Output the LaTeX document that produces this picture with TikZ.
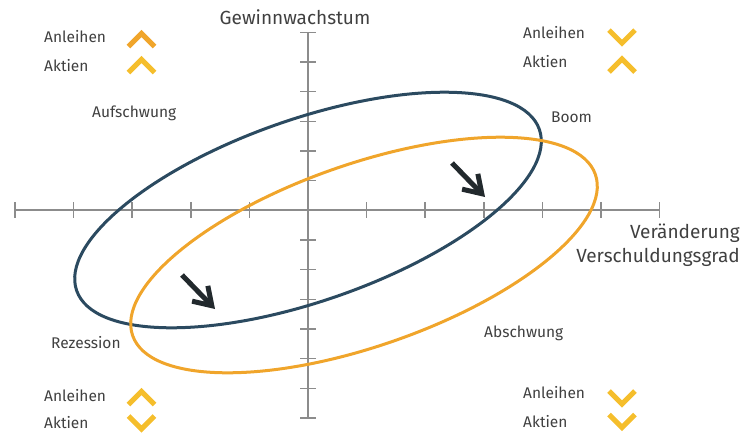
\documentclass[tikz,border=0pt]{standalone}
\usepackage{fontspec}
\setmainfont{Fira Sans}
\usepackage{tikz}
\usetikzlibrary{arrows.meta,positioning}
\definecolor{axisgray}{HTML}{8C8C8C}
\definecolor{cycblue}{HTML}{2B4A60}
\definecolor{cycorange}{HTML}{F0A52B}
\definecolor{chevyellow}{HTML}{F5BE2C}
\definecolor{txtgray}{HTML}{404040}
\definecolor{arrdark}{HTML}{22292D}
\tikzset{
  axis/.style   ={draw=axisgray,line width=2pt},
  tick/.style   ={draw=axisgray,line width=1.6pt},
  cycle/.style  ={line width=3pt},
  lbl/.style    ={text=txtgray,font=\fontsize{15.5}{18}\selectfont,inner sep=0pt},
  axlbl/.style  ={text=txtgray,font=\fontsize{19}{24}\selectfont,inner sep=0pt},
  chev/.style   ={line width=5pt,line cap=butt,line join=miter},
  move/.style   ={-{Straight Barb[length=17pt,width=22pt]},line width=5pt,draw=arrdark},
  pics/chevup/.style={code={\draw[chev,#1] (-13,6.5) -- (0,-6.5) -- (13,6.5);}},
  pics/chevdown/.style={code={\draw[chev,#1] (-13,-6.5) -- (0,6.5) -- (13,-6.5);}}
}
\begin{document}
\begin{tikzpicture}[x=1pt,y=-1pt]
  \useasboundingbox (0,0) rectangle (755,432);
  % --- axes with ticks ---
  \draw[axis] (15,210) -- (659.6,210);
  \draw[axis] (308,32.3) -- (308,418);
  \foreach \k in {0,...,11}
    \draw[tick] ({15+58.6*\k},202) -- ({15+58.6*\k},218);
  \foreach \k in {0,...,13}
    \draw[tick] (300,{32.3+29.67*\k}) -- (316,{32.3+29.67*\k});
  \node[axlbl] (ylab) at (295,17) {Gewinnwachstum};
  \node[axlbl,anchor=east,align=right] (xlab) at (740,245)
    {Veränderung\\Verschuldungsgrad};
  % --- the two cycles ---
  \draw[cycle,draw=cycblue,shift={(308,210)},rotate=19.2]
    (0,0) ellipse [x radius=245pt,y radius=91pt];
  \draw[cycle,draw=cycorange,shift={(364,255)},rotate=19.2]
    (0,0) ellipse [x radius=245pt,y radius=91pt];
  % --- phases ---
  \node[lbl,anchor=west] (aufschwung) at (92,113) {Aufschwung};
  \node[lbl,anchor=west] (boom) at (551,117) {Boom};
  \node[lbl,anchor=west] (rezession) at (51,343) {Rezession};
  \node[lbl,anchor=west] (abschwung) at (484,333) {Abschwung};
  % --- movement ---
  \coordinate (m1s) at (452,163);
  \coordinate (m1e) at (485,197);
  \coordinate (m2s) at (182,275);
  \coordinate (m2e) at (215,309);
  \draw[move] (m1s) -- (m1e);
  \draw[move] (m2s) -- (m2e);
  % --- asset signals per quadrant ---
  \node[lbl,anchor=west] (tlanl) at (44,37) {Anleihen};
  \node[lbl,anchor=west] (tlakt) at (44,66) {Aktien};
  \pic at (141.5,40) {chevup=cycorange};
  \pic at (141.5,66) {chevup=chevyellow};
  \node[lbl,anchor=west] (tranl) at (523,33) {Anleihen};
  \node[lbl,anchor=west] (trakt) at (523,62) {Aktien};
  \pic at (622,36.7) {chevdown=chevyellow};
  \pic at (622,65.5) {chevup=chevyellow};
  \node[lbl,anchor=west] (blanl) at (44,396) {Anleihen};
  \node[lbl,anchor=west] (blakt) at (44,423) {Aktien};
  \pic at (141.5,398) {chevup=chevyellow};
  \pic at (141.5,422.5) {chevdown=chevyellow};
  \node[lbl,anchor=west] (branl) at (523,393) {Anleihen};
  \node[lbl,anchor=west] (brakt) at (523,422) {Aktien};
  \pic at (622,397.5) {chevdown=chevyellow};
  \pic at (622,421) {chevdown=chevyellow};
\end{tikzpicture}
\end{document}
